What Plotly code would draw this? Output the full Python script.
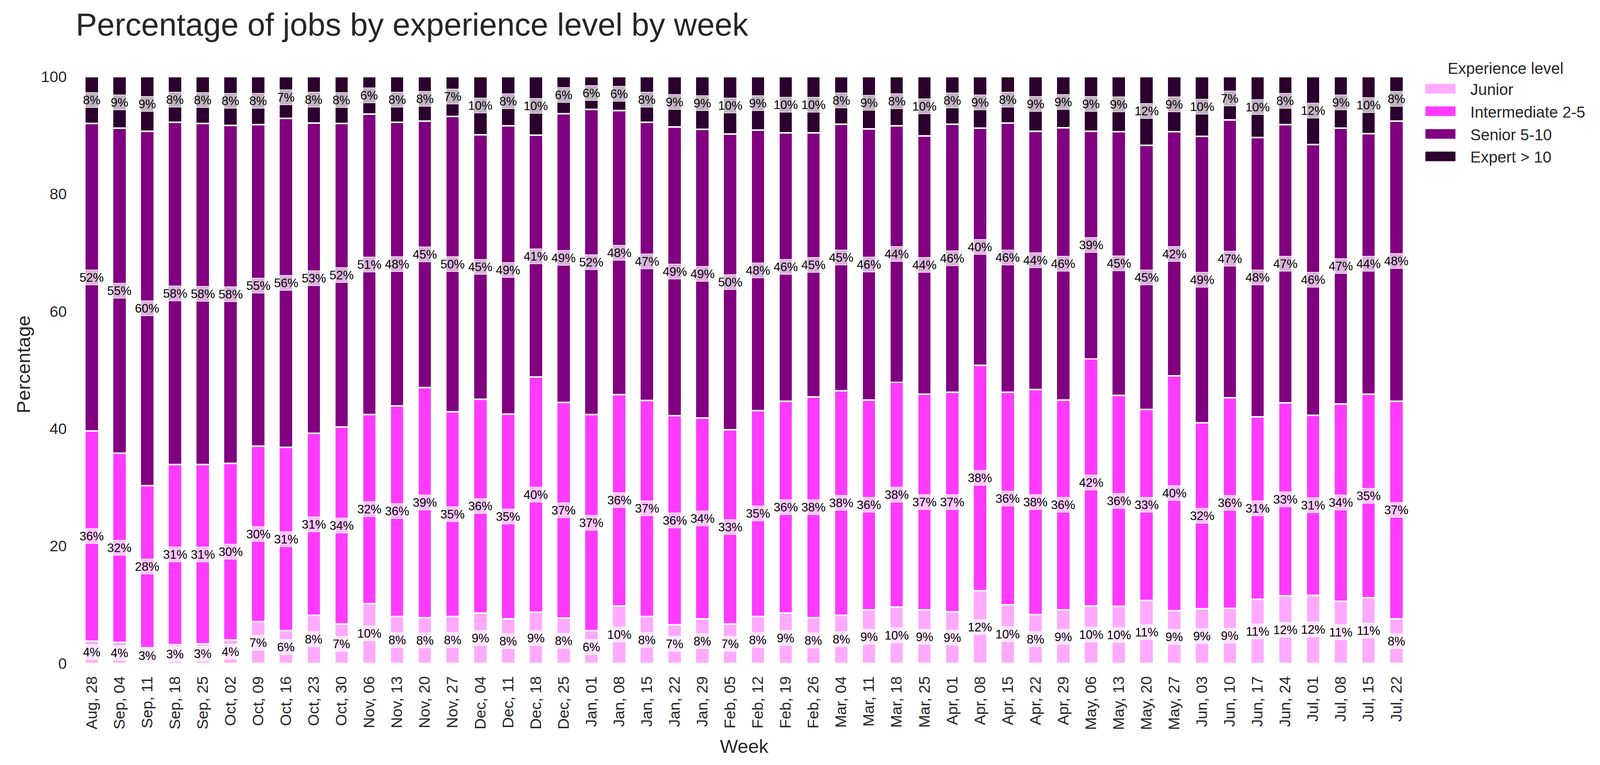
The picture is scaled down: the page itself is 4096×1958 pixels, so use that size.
import plotly.graph_objects as go

weeks = ["Aug, 28", "Sep, 04", "Sep, 11", "Sep, 18", "Sep, 25", "Oct, 02", "Oct, 09", "Oct, 16",
         "Oct, 23", "Oct, 30", "Nov, 06", "Nov, 13", "Nov, 20", "Nov, 27", "Dec, 04", "Dec, 11",
         "Dec, 18", "Dec, 25", "Jan, 01", "Jan, 08", "Jan, 15", "Jan, 22", "Jan, 29", "Feb, 05",
         "Feb, 12", "Feb, 19", "Feb, 26", "Mar, 04", "Mar, 11", "Mar, 18", "Mar, 25", "Apr, 01",
         "Apr, 08", "Apr, 15", "Apr, 22", "Apr, 29", "May, 06", "May, 13", "May, 20", "May, 27",
         "Jun, 03", "Jun, 10", "Jun, 17", "Jun, 24", "Jul, 01", "Jul, 08", "Jul, 15", "Jul, 22"]

junior = [3.8, 3.6, 2.7, 3.2, 3.3, 4.0, 7.1, 5.6, 8.2, 6.7, 10.2, 8.0,
          7.8, 8.0, 8.6, 7.6, 8.7, 7.7, 5.6, 9.8, 8.0, 6.6, 7.6, 6.7,
          8.0, 8.6, 7.8, 8.2, 9.1, 9.6, 9.1, 8.8, 12.4, 10.0, 8.3, 9.1,
          9.8, 9.7, 10.7, 9.0, 9.3, 9.4, 10.9, 11.5, 11.6, 10.6, 11.2, 7.6]
intermediate = [35.8, 32.2, 27.6, 30.7, 30.6, 30.1, 29.9, 31.2, 31.0, 33.6, 32.2, 35.9,
                39.2, 34.9, 36.4, 34.9, 40.1, 36.8, 36.8, 36.0, 36.8, 35.6, 34.2, 33.1,
                35.1, 36.1, 37.6, 38.3, 35.8, 38.3, 36.8, 37.4, 38.4, 36.2, 38.4, 35.8,
                42.1, 36.0, 32.6, 40.0, 31.7, 35.9, 31.1, 32.9, 30.7, 33.6, 34.7, 37.1]
senior = [52.4, 55.4, 60.4, 58.3, 58.1, 57.6, 54.8, 56.1, 52.9, 51.7, 51.2, 48.3,
          45.4, 50.3, 45.1, 49.1, 41.2, 49.2, 52.0, 48.4, 47.4, 49.2, 49.2, 50.4,
          47.8, 45.7, 45.0, 45.4, 46.2, 43.7, 44.0, 45.7, 40.4, 45.9, 44.0, 46.4,
          38.8, 44.9, 45.0, 41.6, 48.8, 47.3, 47.6, 47.4, 46.1, 47.0, 44.4, 47.7]
expert = [8.0, 8.8, 9.3, 7.8, 8.0, 8.3, 8.2, 7.1, 7.9, 8.0, 6.4, 7.8,
          7.6, 6.8, 9.9, 8.4, 10.0, 6.3, 5.6, 5.8, 7.8, 8.6, 9.0, 9.8,
          9.1, 9.6, 9.6, 8.1, 8.9, 8.4, 10.1, 8.1, 8.8, 7.9, 9.3, 8.7,
          9.3, 9.4, 11.7, 9.4, 10.2, 7.4, 10.4, 8.2, 11.6, 8.8, 9.7, 7.6]

series_names = ["Junior", "Intermediate 2-5", "Senior 5-10", "Expert > 10"]
series_values = [junior, intermediate, senior, expert]
colors = ["#FFAAFF", "#FF3AFF", "#800080", "#2C002E"]
y_ticks = [0, 20, 40, 60, 80, 100]

FONT = "Liberation Sans, Arial, Helvetica, sans-serif"
W, H = 4096, 1958
L, R, T, B = 174, 476, 188, 268
PW, PH = W - L - R, H - T - B


def xp(px):
    return (px - L) / PW


def yp(py):
    return (H - B - py) / PH


x = list(range(len(weeks)))
fig = go.Figure()
for name, vals, col in zip(series_names, series_values, colors):
    fig.add_trace(go.Bar(
        x=x, y=vals, name=name, width=0.5,
        marker=dict(color=col, line=dict(color="white", width=3.9)),
        showlegend=False,
    ))

annotations = []
# segment value labels, centred in each segment, with a translucent white box
for i in x:
    base = 0.0
    for vals in series_values:
        v = vals[i]
        annotations.append(dict(
            x=i, y=base + v / 2, xref="x", yref="y", text=f"{v:.0f}%",
            showarrow=False, font=dict(family=FONT, size=31, color="black"),
            bgcolor="rgba(255,255,255,0.7)", bordercolor="rgba(255,255,255,0.9)",
            borderwidth=1.5, borderpad=1, xanchor="center", yanchor="middle",
        ))
        base += v

# axis titles
annotations.append(dict(x=xp(52), y=yp(925), xref="paper", yref="paper", text="Percentage",
                        textangle=-90, showarrow=False, xanchor="center", yanchor="middle",
                        font=dict(family=FONT, size=49, color="#262626")))
annotations.append(dict(x=0.5, y=yp(1902), xref="paper", yref="paper", text="Week",
                        showarrow=False, xanchor="center", yanchor="middle",
                        font=dict(family=FONT, size=49, color="#262626")))

# legend (drawn to match the wide matplotlib handles)
shapes = []
annotations.append(dict(x=xp(3696), y=yp(167), xref="paper", yref="paper",
                        text="Experience level", showarrow=False, xanchor="left",
                        yanchor="middle", font=dict(family=FONT, size=40.4, color="#262626")))
leg_centres = [219.0, 276.7, 334.7, 392.2]
for name, col, cy in zip(series_names, colors, leg_centres):
    shapes.append(dict(type="rect", xref="paper", yref="paper",
                       x0=xp(3641), x1=xp(3718), y0=yp(cy + 12.2), y1=yp(cy - 12.2),
                       fillcolor=col, line=dict(width=0)))
    annotations.append(dict(x=xp(3753.6), y=yp(cy + 2), xref="paper", yref="paper",
                            text=name, showarrow=False, xanchor="left", yanchor="middle",
                            font=dict(family=FONT, size=40.4, color="#262626")))

fig.update_layout(
    width=W, height=H,
    margin=dict(l=L, r=R, t=T, b=B, autoexpand=False),
    barmode="stack", bargap=0.5,
    paper_bgcolor="white", plot_bgcolor="white",
    font=dict(family=FONT, color="#262626"),
    title=dict(text="Percentage of jobs by experience level by week",
               x=186 / W, xanchor="left", xref="container",
               y=1 - 54 / H, yanchor="middle", yref="container",
               font=dict(family=FONT, size=81.5, color="#262626")),
    xaxis=dict(range=[-0.744, 47.75], tickmode="array", tickvals=x, ticktext=weeks,
               tickangle=-90, ticks="", showgrid=False, zeroline=False, showline=False,
               tickfont=dict(family=FONT, size=39.5, color="#262626"),
               ticklabelstandoff=24, automargin=False),
    yaxis=dict(range=[0, 100], tickmode="array", tickvals=y_ticks,
               ticktext=[str(t) for t in y_ticks], ticks="", showgrid=False,
               zeroline=False, showline=False,
               tickfont=dict(family=FONT, size=39.5, color="#262626"),
               ticklabelstandoff=10, automargin=False),
    annotations=annotations, shapes=shapes,
    showlegend=False,
)

fig.write_html("out.html")
